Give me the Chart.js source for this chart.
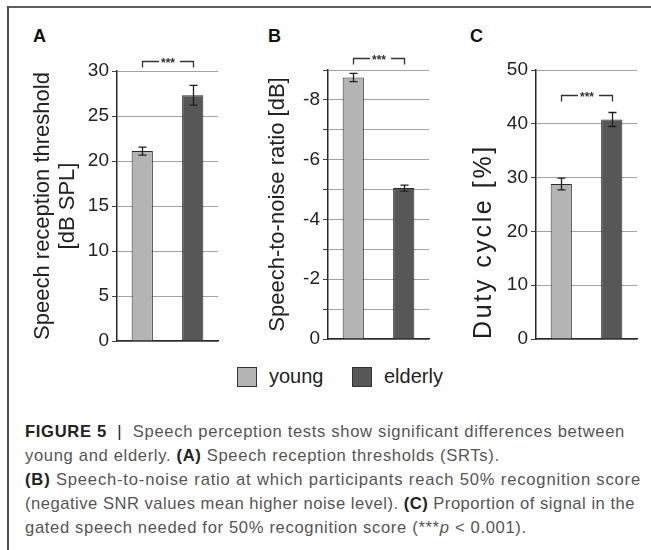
<!DOCTYPE html>
<html>
<head>
<meta charset="utf-8">
<script src="https://cdn.jsdelivr.net/npm/chart.js@4.4.1/dist/chart.umd.min.js"></script>
<style>
html,body{margin:0;padding:0;background:#fff;}
body{width:651px;height:550px;position:relative;overflow:hidden;font-family:"Liberation Sans",Arial,Helvetica,sans-serif;}
.abs{position:absolute;white-space:nowrap;line-height:1;}
canvas{position:absolute;}
.letter{font-weight:bold;font-size:18px;color:#111;}
.lgbox{position:absolute;width:20px;height:20px;box-sizing:border-box;border:1px solid #333;}
.lgtxt{font-size:20px;color:#222;}
.cap{font-size:16.6px;color:#555;}
.cap b{color:#222;}
</style>
</head>
<body>
<div class="abs" style="left:8px;top:6px;width:643px;height:2px;background:#5f5f5f"></div>
<div class="abs" style="left:7px;top:6px;width:2px;height:544px;background:#4a4a4a"></div>

<div class="abs letter" style="left:33px;top:27px">A</div>
<div class="abs letter" style="left:268px;top:27px">B</div>
<div class="abs letter" style="left:470px;top:27px">C</div>

<canvas id="cA" width="225" height="356" style="left:0;top:0"></canvas>
<canvas id="cB" width="210" height="356" style="left:225px;top:0"></canvas>
<canvas id="cC" width="216" height="356" style="left:435px;top:0"></canvas>

<div class="lgbox" id="lg0" style="left:237px;top:367px"></div>
<div class="abs lgtxt" id="lt0" style="left:269px;top:366px"></div>
<div class="lgbox" id="lg1" style="left:352px;top:367px"></div>
<div class="abs lgtxt" id="lt1" style="left:384px;top:366px"></div>

<div class="abs cap" id="cap1" style="left:25px;top:424px"><b>FIGURE 5</b>&nbsp;&nbsp;<b style="font-weight:normal;color:#222">|</b>&nbsp;&nbsp;Speech perception tests show significant differences between</div>
<div class="abs cap" id="cap2" style="left:25px;top:448px">young and elderly. <b>(A)</b> Speech reception thresholds (SRTs).</div>
<div class="abs cap" id="cap3" style="left:25px;top:472px"><b>(B)</b> Speech-to-noise ratio at which participants reach 50% recognition score</div>
<div class="abs cap" id="cap4" style="left:25px;top:496px">(negative SNR values mean higher noise level). <b>(C)</b> Proportion of signal in the</div>
<div class="abs cap" id="cap5" style="left:25px;top:520px">gated speech needed for 50% recognition score (***<i>p</i> &lt; 0.001).</div>

<script>
// ---- data ----
const groups = ['young', 'elderly'];
const groupColors = ['#b4b4b4', '#575757'];

const srtMeans = [21.1, 27.3];
const srtErrors = [0.45, 1.1];
const srtTicks = [0, 5, 10, 15, 20, 25, 30];

const snrMeans = [-8.75, -5.05];
const snrErrors = [0.14, 0.1];
const snrTicks = [0, -2, -4, -6, -8];

const dutyMeans = [28.8, 40.8];
const dutyErrors = [1.1, 1.3];
const dutyTicks = [0, 10, 20, 30, 40, 50];

const sigLabel = '***';
const srtBracket = 31.1;
const snrBracket = -9.4;
const dutyBracket = 45.4;

// ---- legend ----
groups.forEach((g, i) => {
  document.getElementById('lg' + i).style.background = groupColors[i];
  document.getElementById('lt' + i).textContent = g;
});

// fit caption lines to the reference line ends
(function(){
  const targets = {1: 625 - 25, 3: 641 - 25, 4: 635 - 25};
  const spacings = [];
  for (const k of [1, 3, 4]) {
    const el = document.getElementById('cap' + k);
    const w = el.getBoundingClientRect().width;
    const n = el.textContent.length;
    const ls = (targets[k] - w) / n;
    el.style.letterSpacing = ls + 'px';
    spacings.push(ls);
  }
  const avg = spacings.reduce((a, b) => a + b, 0) / spacings.length;
  document.getElementById('cap2').style.letterSpacing = avg + 'px';
  document.getElementById('cap5').style.letterSpacing = avg + 'px';
})();

const FONT = '"Liberation Sans", Arial, sans-serif';

const errorBars = {
  id: 'errorBars',
  afterDatasetsDraw(chart) {
    const ctx = chart.ctx, y = chart.scales.y;
    chart.data.datasets.forEach((ds, di) => {
      const meta = chart.getDatasetMeta(di);
      meta.data.forEach((bar, i) => {
        const v = ds.data[i], e = ds.errors[i];
        const y1 = y.getPixelForValue(v - e), y2 = y.getPixelForValue(v + e);
        const x = Math.round(bar.x) + 0.5, cap = 4;
        ctx.save();
        ctx.strokeStyle = '#1e1e1e';
        ctx.lineWidth = 1.3;
        ctx.beginPath();
        ctx.moveTo(x, y1); ctx.lineTo(x, y2);
        ctx.moveTo(x - cap, y1); ctx.lineTo(x + cap, y1);
        ctx.moveTo(x - cap, y2); ctx.lineTo(x + cap, y2);
        ctx.stroke();
        ctx.restore();
      });
    });
  }
};

const sigBracket = {
  id: 'sig',
  afterDraw(chart, args, opts) {
    const ctx = chart.ctx, y = chart.scales.y, meta = chart.getDatasetMeta(0);
    const x1 = Math.round(meta.data[0].x) + 0.5, x2 = Math.round(meta.data[1].x) + 0.5;
    const yy = Math.round(y.getPixelForValue(opts.value)) + 0.5;
    ctx.save();
    ctx.strokeStyle = '#333';
    ctx.lineWidth = 1.3;
    ctx.font = 'bold 12px ' + FONT;
    const tw = ctx.measureText(opts.label).width;
    const mid = (x1 + x2) / 2;
    ctx.beginPath();
    ctx.moveTo(x1, yy + opts.drop); ctx.lineTo(x1, yy); ctx.lineTo(mid - tw / 2 - 2, yy);
    ctx.moveTo(mid + tw / 2 + 5, yy); ctx.lineTo(x2, yy); ctx.lineTo(x2, yy + opts.drop);
    ctx.stroke();
    ctx.fillStyle = '#333';
    ctx.textAlign = 'center';
    ctx.textBaseline = 'middle';
    ctx.fillText(opts.label, mid, yy + 2);
    ctx.restore();
  }
};

// optional letter spacing for an axis title (C panel title is spread out in the reference)
const titleSpacing = {
  id: 'titleSpacing',
  afterLayout(chart, args, opts) {
    const s = chart.scales.y;
    if (!opts.spacing || s._spPatched) return;
    const orig = s.drawTitle;
    s.drawTitle = function () {
      const ctx = this.ctx;
      ctx.save();
      ctx.letterSpacing = opts.spacing + 'px';
      orig.call(this);
      ctx.restore();
    };
    s._spPatched = true;
  }
};

function makePanel(id, c) {
  return new Chart(document.getElementById(id), {
    type: 'bar',
    data: {
      labels: groups,
      datasets: [{
        data: c.means,
        errors: c.errors,
        backgroundColor: groupColors,
        borderColor: '#2a2a2a',
        borderWidth: 1,
        barPercentage: 0.42,
        categoryPercentage: 1
      }]
    },
    options: {
      responsive: false,
      animation: false,
      events: [],
      layout: { padding: { left: 0, right: c.padRight, top: c.padTop, bottom: c.padBottom } },
      plugins: {
        legend: { display: false },
        tooltip: { enabled: false },
        sig: { value: c.bracket, label: sigLabel, drop: 6 },
        titleSpacing: { spacing: c.titleSpacing || 0 }
      },
      scales: {
        x: {
          grid: { display: false, drawTicks: false },
          border: { display: true, color: '#2a2a2a', width: 1.5 },
          ticks: { display: false },
          afterFit(s) { s.height = 0; }
        },
        y: {
          min: c.min, max: c.max, reverse: !!c.reverse,
          afterFit(s) { s.width = c.axisWidth; },
          ticks: {
            stepSize: c.step,
            autoSkip: false,
            padding: 3,
            color: '#222',
            font: { family: FONT, size: 19 },
            callback: (v) => c.ticks.includes(v) ? String(v) : ''
          },
          grid: { color: '#a3a3a3', tickColor: '#444', tickLength: 5, lineWidth: 1 },
          border: { color: '#2a2a2a', width: 1.5 },
          title: {
            display: true,
            text: c.title,
            align: c.titleAlign || 'center',
            color: '#222',
            font: { family: FONT, size: c.titleSize, lineHeight: 25.5 / c.titleSize },
            padding: { top: c.titlePad, bottom: 0 }
          }
        }
      }
    },
    plugins: [errorBars, sigBracket, titleSpacing]
  });
}

makePanel('cA', {
  means: srtMeans, errors: srtErrors, ticks: srtTicks, min: 0, max: 30, step: 5,
  title: ['Speech reception threshold', '[dB SPL]'], titlePad: 30, titleSize: 22,
  axisWidth: 117, padTop: 71, padBottom: 15, padRight: 7, bracket: srtBracket
});
makePanel('cB', {
  means: snrMeans, errors: snrErrors, ticks: snrTicks, min: -9, max: 0, step: 1, reverse: true,
  title: 'Speech-to-noise ratio [dB]', titlePad: 40, titleSize: 22,
  axisWidth: 103, padTop: 40 + 30, padBottom: 17, padRight: 6, bracket: snrBracket
});
makePanel('cC', {
  means: dutyMeans, errors: dutyErrors, ticks: dutyTicks, min: 0, max: 50, step: 10,
  title: 'Duty cycle [%]', titlePad: 36, titleSize: 25, titleAlign: 'start', titleSpacing: 2.6,
  axisWidth: 101, padTop: 70, padBottom: 17, padRight: 14, bracket: dutyBracket
});
</script>
</body>
</html>
